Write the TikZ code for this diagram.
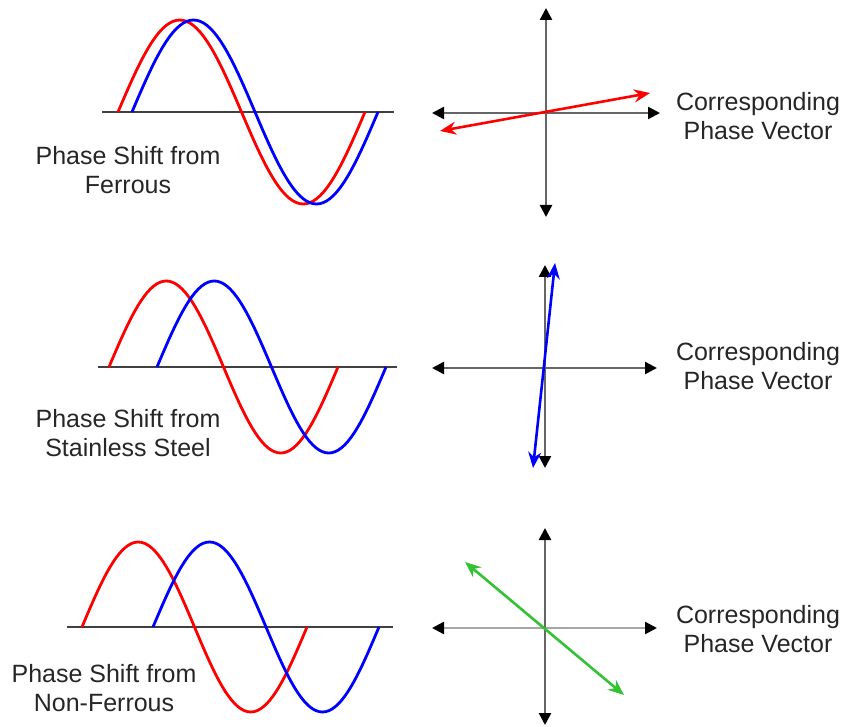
\documentclass[tikz,border=0pt]{standalone}
\usepackage{fontspec}
\setmainfont{Liberation Sans}
\usetikzlibrary{arrows.meta}

\begin{document}
\begin{tikzpicture}[x=1pt, y=-1pt,
		wave/.style={line width=2.8pt},
		zeroline/.style={draw=black!75, line width=2pt},
		axis/.style={draw=black!60, line width=2.4pt,
			{Triangle[black, length=12pt, width=12pt]}-{Triangle[black, length=12pt, width=12pt]}},
		vec/.style={line width=2.6pt,
			{Stealth[length=16pt, width=13pt]}-{Stealth[length=16pt, width=13pt]}},
		lbl/.style={align=center, font=\fontsize{25}{29.5}\selectfont, text=black!85, inner sep=0pt}
		]
		\useasboundingbox (0,0) rectangle (851,727);
		
		% Ferrous
		\draw[zeroline] (102,112) -- (394,112);
		\draw[wave, red]  plot[domain=0:360, samples=73] ({118+\x/360*247}, {112-92*sin(\x)});
		\draw[wave, blue] plot[domain=0:360, samples=73] ({132+\x/360*246}, {112-92*sin(\x)});
		\node[lbl] (shift1) at (128,170) {Phase Shift from\\Ferrous};
		
		\coordinate (w1) at (432,113);
		\coordinate (e1) at (660,113);
		\coordinate (n1) at (546,8);
		\coordinate (s1) at (546,217);
		\coordinate (p1) at (440,131);
		\coordinate (q1) at (650,93);
		\draw[axis] (w1) -- (e1);
		\draw[axis] (n1) -- (s1);
		\draw[vec, red] (p1) -- (q1);
		\node[lbl] (vec1) at (758,116) {Corresponding\\Phase Vector};
		
		% Stainless Steel
		\draw[zeroline] (98,367) -- (397,367);
		\draw[wave, red]  plot[domain=0:360, samples=73] ({109+\x/360*229}, {367-86*sin(\x)});
		\draw[wave, blue] plot[domain=0:360, samples=73] ({157+\x/360*229}, {367-86*sin(\x)});
		\node[lbl] (shift2) at (128,433) {Phase Shift from\\Stainless Steel};
		
		\coordinate (w2) at (432,368);
		\coordinate (e2) at (657,368);
		\coordinate (n2) at (545,265);
		\coordinate (s2) at (545,468);
		\coordinate (p2) at (533,468);
		\coordinate (q2) at (555,263);
		\draw[axis] (w2) -- (e2);
		\draw[axis] (n2) -- (s2);
		\draw[vec, blue] (p2) -- (q2);
		\node[lbl] (vec2) at (758,366) {Corresponding\\Phase Vector};
		
		% Non-Ferrous
		\draw[zeroline] (67,627) -- (393,627);
		\draw[wave, red]  plot[domain=0:360, samples=73] ({82+\x/360*225}, {627-85*sin(\x)});
		\draw[wave, blue] plot[domain=0:360, samples=73] ({153+\x/360*226}, {627-85*sin(\x)});
		\node[lbl] (shift3) at (104,688) {Phase Shift from\\Non-Ferrous};
		
		\coordinate (w3) at (432,628);
		\coordinate (e3) at (657,628);
		\coordinate (n3) at (545,528);
		\coordinate (s3) at (545,725);
		\coordinate (p3) at (465,562);
		\coordinate (q3) at (624,695);
		\draw[axis, draw=black!35] (w3) -- (e3);
		\draw[axis] (n3) -- (s3);
		\draw[vec, green!70!black!80] (p3) -- (q3);
		\node[lbl] (vec3) at (758,629) {Corresponding\\Phase Vector};
\end{tikzpicture}
\end{document}
